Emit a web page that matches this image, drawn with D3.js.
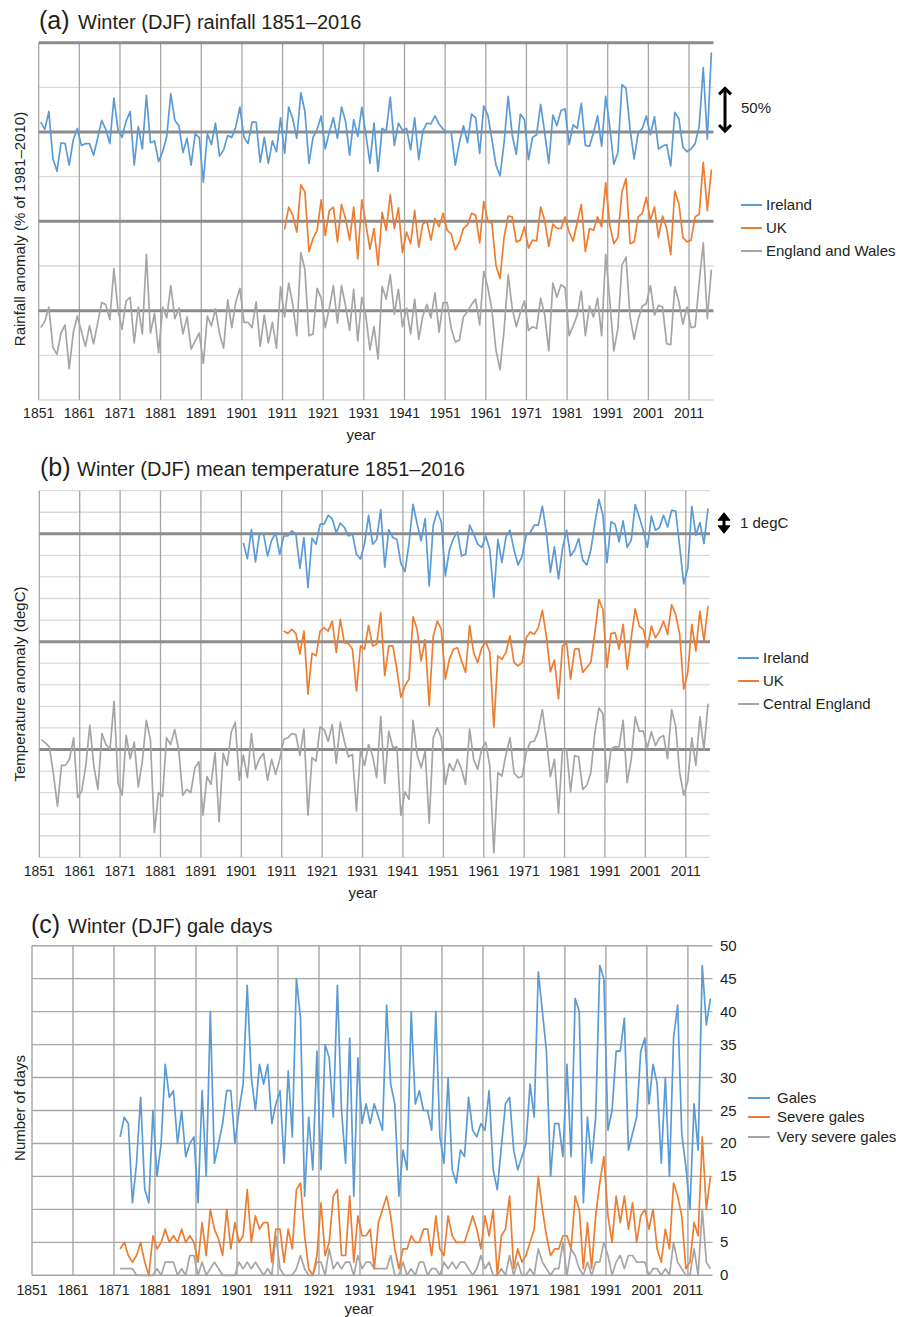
<!DOCTYPE html>
<html>
<head>
<meta charset="utf-8">
<script src="https://cdn.jsdelivr.net/npm/d3@7/dist/d3.min.js"></script>
<style>
  body { margin: 0; background: #ffffff; }
  text { font-family: "Liberation Sans", Arial, Helvetica, sans-serif; fill: #231f20; }
</style>
</head>
<body>
<div id="chart"></div>
<script>

// ---------------- data ----------------

// (a) winter rainfall anomaly, % of 1981-2010 mean
var rainIrelandStart = 1851;
var rainIreland = [
  11, 3, 23, -30, -44, -12, -13, -37, -9, 4,
  -15, -13, -13, -26, -7, 13, 3, -13, 38, 3,
  -6, 12, 23, -37, 6, -19, 41, -12, -10, -33,
  -22, -5, 43, 13, 7, -23, -7, -37, -2, -6,
  -56, -2, -14, 10, -27, -20, -4, -6, 6, 28,
  -6, -13, 11, 11, -34, -6, -35, -10, -22, 16,
  -24, 28, 15, -7, 44, 23, -35, -6, 3, 18,
  -19, 0, 16, -7, 28, 12, -26, 14, -5, 28,
  -3, -35, 10, -44, 4, 1, 39, -15, 10, 2,
  4, -20, 16, -31, 1, 10, 9, 18, 9, 3,
  0, 0, -37, -12, 7, -12, 20, 16, -24, 29,
  19, -8, -37, -49, -12, 40, -3, -25, 20, 14,
  -31, -6, -3, 31, -1, -35, 19, 7, 24, 26,
  -14, 8, 4, 32, -15, -16, -1, 18, -16, 40,
  6, -36, -23, 53, 49, 3, -30, -1, 4, 18,
  -3, 17, -19, -16, -14, -38, 22, 15, -17, -22,
  -19, -13, 6, 72, -8, 89
];

var rainUKStart = 1911;
var rainUK = [
  -9, 16, 7, -12, 41, 33, -34, -19, -10, 24,
  -16, 12, 16, -23, 19, 3, -21, 16, -42, 24,
  -3, -31, -8, -49, 10, -10, 30, -8, 15, -35,
  -12, -25, 12, -29, -3, 0, -21, 3, -6, 9,
  -10, -14, -32, -23, -8, -4, 9, 7, -24, 22,
  0, -2, -49, -64, -18, 6, 5, -23, -21, -6,
  -30, -21, -22, 16, 1, -28, -3, -8, -8, 5,
  -12, -22, -1, 19, -34, -8, -10, 5, -6, 43,
  -4, -25, -18, 33, 48, -25, -23, 5, 9, 27,
  1, 16, -18, 6, -8, -37, 34, 20, -18, -23,
  -21, 5, 8, 66, 12, 58
];

var rainEWStart = 1851;
var rainEW = [
  -19, -12, 4, -41, -49, -25, -16, -65, -25, -6,
  -23, -40, -17, -37, -14, 9, 7, -10, 47, 1,
  -21, 11, 15, -36, 4, -26, 63, -25, -3, -47,
  4, -8, 28, -9, 3, -26, -7, -43, -34, -25,
  -59, -6, -17, 2, -26, -42, 12, -19, 10, 25,
  -13, -13, -19, 10, -40, -5, -36, -13, -42, 27,
  -7, 31, 7, -28, 65, 46, -28, -26, 25, 14,
  -19, 3, 28, -14, 28, 5, -22, 24, -34, 15,
  -6, -44, -18, -54, 27, 13, 40, -4, 24, -18,
  3, -26, 13, -32, -6, 7, -8, 20, -24, 9,
  9, -20, -35, -33, -7, -1, 7, 13, -16, 44,
  26, 1, -44, -66, -22, 40, 3, -18, -2, 11,
  -22, -18, -20, 14, -5, -45, 31, 15, 29, 26,
  -28, -17, -5, 22, -28, 5, -7, 14, -28, 63,
  12, -45, -20, 51, 60, -7, -32, -10, 5, 8,
  28, -5, 6, 4, -37, -38, 27, 10, -15, 4,
  -19, -18, 31, 76, -9, 46
];

// (b) winter mean temperature anomaly, degC
var tempIrelandStart = 1901;
var tempIreland = [
  -0.42, -1.15, 0.2, -1.3, 0.0, 0.0, -1.03, -0.3, 0.05, -0.95,
  -0.1, -0.1, 0.14, 0.0, -1.6, -0.17, -2.5, -0.2, -0.48, 0.45,
  0.45, 0.86, 0.7, 0.05, 0.5, 0.3, -0.1, 0.0, -0.95, -1.17,
  -0.45, 0.86, -0.48, -0.26, 1.12, -1.55, 0.2, -0.17, -0.26, -1.37,
  -1.75, -0.45, 1.37, 0.48, -0.32, 0.7, -2.42, 0.4, 1.06, 0.55,
  -1.95, -0.75, -0.22, 0.09, -1.03, -0.95, 0.4, 0.0, -0.48, -0.63,
  -0.1, -0.72, -2.95, -0.26, -1.34, -0.14, 0.17, -0.75, -1.45, -1.03,
  -0.06, 0.05, 0.4, 0.4, 1.28, 0.09, -1.78, -0.6, -2.09, -0.68,
  0.17, -1.03, -0.75, -0.22, -1.22, -1.45, -0.75, 0.48, 1.6, 0.86,
  -1.34, 0.55, 0.45, -0.37, 0.6, -0.63, -0.29, 1.35, 0.78, 0.14,
  -0.63, 0.82, 0.17, 0.29, 0.86, 0.32, 1.09, 1.06, -0.6, -2.32,
  -1.6, 1.28, -0.06, 0.52, -0.45, 1.17
];

var tempUKStart = 1911;
var tempUK = [
  0.49, 0.38, 0.57, 0.38, -0.58, 0.49, -2.43, -0.54, -0.66, 0.49,
  0.65, 0.49, 0.95, -0.5, 1.03, -0.05, -0.08, -0.35, -2.28, -0.2,
  -0.35, 0.75, -0.2, -0.12, 1.34, -1.58, -0.2, -0.2, -1.28, -2.58,
  -2.05, -1.74, 1.15, 0.57, -0.89, 0.1, -2.97, 0.26, 0.95, 0.57,
  -1.74, -0.82, -0.35, -0.28, -0.89, -1.43, 0.75, -0.5, -0.97, -0.28,
  0.0, -0.5, -3.97, -0.66, -0.82, -0.5, 0.26, -0.97, -1.12, -0.97,
  0.18, 0.45, 0.34, 0.65, 1.45, 0.26, -1.4, -0.85, -2.66, -0.2,
  -0.05, -1.74, -0.35, -0.32, -1.43, -1.2, -0.97, 0.42, 1.95, 1.49,
  -1.2, 0.38, 0.42, -0.35, 0.8, -1.28, 0.18, 1.52, 0.72, 0.57,
  -0.28, 0.72, 0.18, 0.49, 0.95, 0.34, 1.72, 1.26, 0.34, -2.2,
  -1.43, 0.8, -0.43, 1.42, 0.03, 1.65
];

var tempCEStart = 1851;
var tempCE = [
  0.46, 0.31, 0.12, -1.15, -2.62, -0.74, -0.74, -0.43, 0.54, -2.23,
  -1.92, -0.77, 1.12, -0.77, -1.85, 0.74, 0.23, 0.0, 2.23, -1.57,
  -2.12, 0.65, -0.43, 0.34, -1.74, -0.54, 1.35, 0.46, -3.85, -2.0,
  -2.18, 0.54, 0.23, 0.92, 0.0, -2.12, -1.85, -2.0, -0.85, -0.57,
  -3.05, -1.26, -1.62, -0.15, -3.35, -0.18, -0.74, 0.8, 1.26, -1.42,
  -0.26, -1.31, 0.74, -0.92, -0.43, -0.18, -1.42, -0.46, -1.15, -0.46,
  0.46, 0.54, 0.74, 0.69, -0.28, 0.95, -3.05, -0.38, -0.54, 1.05,
  0.92, 0.38, 1.15, -0.65, 1.26, 0.38, -0.34, -0.23, -2.85, -0.03,
  -0.74, 0.23, -0.31, -1.31, 1.54, -1.57, 0.85, 0.08, 0.12, -3.05,
  -1.97, -2.31, 1.35, -0.23, -0.85, -0.08, -3.42, 0.54, 1.0, 0.54,
  -1.62, -0.65, -1.0, -0.46, -0.92, -1.62, 0.95, -0.46, -0.92, 0.03,
  0.34, -0.77, -4.8, -1.08, -1.23, -0.23, 0.54, -1.08, -1.31, -1.26,
  -0.15, 0.34, 0.38, 0.85, 1.85, 0.46, -1.26, -0.46, -2.95, 0.0,
  0.0, -1.97, -0.28, -0.34, -1.85, -1.66, -1.08, 0.77, 1.92, 1.66,
  -1.54, 0.03, 0.12, 0.12, 1.35, -1.54, -0.46, 1.51, 0.85, 0.85,
  0.08, 0.82, 0.18, 0.54, 0.65, -0.43, 1.85, 1.08, -1.08, -2.12,
  -1.46, 0.54, -0.74, 1.51, 0.0, 2.12
];

// (c) winter gale days
var galeStart = 1872;
var gales = [
  21, 24, 23, 11, 17, 27, 13, 11, 25,
  15, 20, 32, 27, 28, 20, 25, 18, 20, 21,
  11, 28, 15, 40, 17, 20, 23, 28, 28, 20,
  25, 29, 44, 30, 25, 32, 29, 32, 23, 26,
  28, 17, 31, 21, 45, 39, 12, 24, 16, 34,
  16, 35, 33, 24, 44, 25, 17, 36, 12, 33,
  23, 26, 23, 26, 24, 22, 41, 29, 26, 12,
  19, 16, 40, 26, 28, 25, 25, 22, 40, 21,
  17, 30, 16, 14, 19, 18, 27, 22, 21, 23,
  22, 28, 16, 13, 19.5, 26, 27, 19, 16, 18,
  20, 29, 24, 46, 40, 34, 15, 23, 23, 18,
  32, 18, 42, 40, 11, 24, 17, 24, 47, 45,
  22, 25, 34, 34, 39, 19, 21.5, 24, 34, 36,
  26, 32, 29, 17, 30, 15, 36, 41, 21.5, 16.5,
  10, 26, 19, 47, 38, 42
];
var severeGales = [
  4, 5, 3, 2, 3, 5, 2, 0, 6,
  4, 5, 7, 5, 6, 5, 7, 5, 6, 5,
  2, 8, 3, 10, 7, 5.5, 3, 10, 4, 8,
  5, 6, 13, 5, 9, 7, 8, 8, 2, 7,
  7, 2, 7, 4, 13, 14, 6, 1, 0, 3,
  11, 3, 5, 12, 13, 3, 3, 12, 2, 9,
  6, 6, 7, 1, 8, 10, 12, 9, 4, 1,
  4, 4, 6, 5, 5, 7, 7, 3, 9, 4,
  3, 9, 6, 5, 5, 5, 7, 9, 7, 4,
  9, 6, 10, 0, 6, 7, 12, 1, 4, 2,
  3, 5, 7, 15, 10, 6, 3, 4, 4, 6,
  6, 4, 12, 10, 1, 8, 1, 9, 14, 18,
  9, 5, 12, 8, 12, 7, 11, 5, 9, 10,
  7, 10, 4, 2, 7, 4, 14, 12, 9, 1,
  2, 8, 6, 21, 10, 15
];
var verySevereGales = [
  1, 1, 1, 1, 0, 0, 0, 0, 0,
  1, 0, 2, 2, 2, 0, 1, 0, 3, 3,
  0, 2, 0, 1, 2, 1, 0, 0, 0, 0,
  2, 1, 2, 1, 2, 1, 0, 1, 0, 6,
  1, 0, 0, 0, 1, 3, 1, 0, 0, 2,
  2, 0, 4, 1, 2, 1, 2, 2, 0, 3,
  1, 2, 2, 1, 1, 1, 1, 3, 0, 0,
  2, 0, 1, 0, 2, 2, 0, 1, 1, 0,
  2, 1, 2, 1, 2, 2, 1, 0, 1, 3,
  1, 2, 0, 0, 1, 0, 3, 0, 2, 0,
  0, 1, 0, 4, 2, 1, 0, 1, 1, 5,
  0, 4, 3, 1, 0, 2, 0, 2, 2, 5,
  3, 0, 2, 3, 1, 3, 3, 2, 2, 2,
  0, 1, 1, 0, 1, 0, 5, 2, 1, 0,
  0, 4, 0, 10, 2, 1
];

// tick years shared by all panels
var tickYears = d3.range(1851, 2012, 10);
var galeTicks = d3.range(0, 51, 5);

// ---------------- colours ----------------
var blue = "#5b9bd5";
var orange = "#ed7d31";
var grey = "#a5a5a5";
var gridDark = "#a6a6a6";
var gridLight = "#d9d9d9";
var zeroLine = "#8c8c8c";

// svg container
var svg = d3.select("#chart")
  .append("svg")
  .attr("width", 898)
  .attr("height", 1317);

// draws one series; points sit in the middle of each year slot
function drawSeries(g, x, y, values, start, offset, colour) {
  var line = d3.line()
    .x((d, i) => x(start + i + 0.5))
    .y(d => y(d + offset));
  g.append("path")
    .datum(values)
    .attr("fill", "none")
    .attr("stroke", colour)
    .attr("stroke-width", 1.7)
    .attr("stroke-linejoin", "round")
    .attr("d", line);
}

function drawTitle(tag, label, xTag, xLabel, yBase) {
  svg.append("text").attr("x", xTag).attr("y", yBase)
    .style("font-size", "25px").text(tag);
  svg.append("text").attr("x", xLabel).attr("y", yBase)
    .style("font-size", "20px").text(label);
}

function drawYearAxis(x, yTicks, yTitle, titleX) {
  svg.append("g").selectAll("text")
    .data(tickYears)
    .enter()
    .append("text")
    .attr("x", d => x(d))
    .attr("y", yTicks)
    .attr("text-anchor", "middle")
    .style("font-size", "14px")
    .text(d => d);
  svg.append("text")
    .attr("x", titleX)
    .attr("y", yTitle)
    .attr("text-anchor", "middle")
    .style("font-size", "15px")
    .text("year");
}

function drawYLabel(label, cx, cy) {
  svg.append("text")
    .attr("transform", `translate(${cx}, ${cy}) rotate(-90)`)
    .attr("text-anchor", "middle")
    .style("font-size", "15px")
    .text(label);
}

function drawLegend(items, x0, x1, xText, yRows) {
  var g = svg.append("g");
  items.forEach(function(item, i) {
    g.append("line")
      .attr("x1", x0).attr("x2", x1)
      .attr("y1", yRows[i]).attr("y2", yRows[i])
      .attr("stroke", item.colour)
      .attr("stroke-width", 2);
    g.append("text")
      .attr("x", xText)
      .attr("y", yRows[i] + 5)
      .style("font-size", "15px")
      .text(item.name);
  });
}

/////////////// PANEL (a) RAINFALL ///////////////
var xA = d3.scaleLinear().domain([1851, 2017]).range([38.7, 713.4]);
var yA = d3.scaleLinear().domain([-300, 100]).range([400, 42.7]);
var gA = svg.append("g");

// light horizontal grid every 50%
gA.selectAll(".hA")
  .data(d3.range(-300, 101, 50))
  .enter()
  .append("line")
  .attr("x1", xA(1851)).attr("x2", xA(2017))
  .attr("y1", d => yA(d)).attr("y2", d => yA(d))
  .attr("stroke", gridLight)
  .attr("stroke-width", 1.3);

// vertical decade lines
gA.selectAll(".vA")
  .data(tickYears)
  .enter()
  .append("line")
  .attr("x1", d => xA(d)).attr("x2", d => xA(d))
  .attr("y1", yA(100)).attr("y2", yA(-300))
  .attr("stroke", gridDark)
  .attr("stroke-width", 1.3);

// thick reference lines: top border and the three zero lines
gA.selectAll(".zA")
  .data([100, 0, -100, -200])
  .enter()
  .append("line")
  .attr("x1", xA(1851)).attr("x2", xA(2017))
  .attr("y1", d => yA(d)).attr("y2", d => yA(d))
  .attr("stroke", zeroLine)
  .attr("stroke-width", 3);

drawSeries(gA, xA, yA, rainEW, rainEWStart, -200, grey);
drawSeries(gA, xA, yA, rainUK, rainUKStart, -100, orange);
drawSeries(gA, xA, yA, rainIreland, rainIrelandStart, 0, blue);

drawTitle("(a)", "Winter (DJF) rainfall 1851\u20132016", 39, 78, 29);
drawYearAxis(xA, 418, 440, 361);
drawYLabel("Rainfall anomaly (% of 1981\u20132010)", 25, 229);
drawLegend([
  { name: "Ireland", colour: blue },
  { name: "UK", colour: orange },
  { name: "England and Wales", colour: grey }
], 741, 762, 766, [205, 228, 251]);

// 50% scale arrow
var arrowA = svg.append("g")
  .attr("stroke", "#000")
  .attr("stroke-width", 3)
  .attr("fill", "none");
arrowA.append("line").attr("x1", 725).attr("x2", 725).attr("y1", yA(50) + 1).attr("y2", yA(0) - 1);
arrowA.append("polyline").attr("points", `719,${yA(50) + 7} 725,${yA(50) + 1} 731,${yA(50) + 7}`);
arrowA.append("polyline").attr("points", `719,${yA(0) - 7} 725,${yA(0) - 1} 731,${yA(0) - 7}`);
svg.append("text").attr("x", 741).attr("y", 113).style("font-size", "15px").text("50%");

/////////////// PANEL (b) TEMPERATURE ///////////////
var xB = d3.scaleLinear().domain([1851, 2017]).range([39.3, 710]);
var yB = d3.scaleLinear().domain([-15, 2]).range([857.3, 490.7]);
var gB = svg.append("g");

gB.selectAll(".hB")
  .data(d3.range(-15, 3, 1))
  .enter()
  .append("line")
  .attr("x1", xB(1851)).attr("x2", xB(2017))
  .attr("y1", d => yB(d)).attr("y2", d => yB(d))
  .attr("stroke", gridLight)
  .attr("stroke-width", 1.3);

gB.selectAll(".vB")
  .data(tickYears)
  .enter()
  .append("line")
  .attr("x1", d => xB(d)).attr("x2", d => xB(d))
  .attr("y1", yB(2)).attr("y2", yB(-15))
  .attr("stroke", gridDark)
  .attr("stroke-width", 1.3);

gB.selectAll(".zB")
  .data([0, -5, -10])
  .enter()
  .append("line")
  .attr("x1", xB(1851)).attr("x2", xB(2017))
  .attr("y1", d => yB(d)).attr("y2", d => yB(d))
  .attr("stroke", zeroLine)
  .attr("stroke-width", 3);

drawSeries(gB, xB, yB, tempCE, tempCEStart, -10, grey);
drawSeries(gB, xB, yB, tempUK, tempUKStart, -5, orange);
drawSeries(gB, xB, yB, tempIreland, tempIrelandStart, 0, blue);

drawTitle("(b)", "Winter (DJF) mean temperature 1851\u20132016", 40, 77, 476);
drawYearAxis(xB, 876, 898, 363);
drawYLabel("Temperature anomaly (degC)", 25, 684);
drawLegend([
  { name: "Ireland", colour: blue },
  { name: "UK", colour: orange },
  { name: "Central England", colour: grey }
], 738, 759, 763, [658, 681, 704]);

// 1 degC scale arrow
var arrowB = svg.append("g").attr("fill", "#000").attr("stroke", "#000");
arrowB.append("line").attr("x1", 724).attr("x2", 724)
  .attr("y1", yB(1) + 4).attr("y2", yB(0) - 4).attr("stroke-width", 3);
arrowB.append("path").attr("d", `M718,${yB(1) + 8} L724,${yB(1) + 0.5} L730,${yB(1) + 8} Z`);
arrowB.append("path").attr("d", `M718,${yB(0) - 8} L724,${yB(0) - 0.5} L730,${yB(0) - 8} Z`);
svg.append("text").attr("x", 740).attr("y", 528).style("font-size", "15px").text("1 degC");

/////////////// PANEL (c) GALES ///////////////
var xC = d3.scaleLinear().domain([1851, 2017]).range([32, 712.5]);
var yC = d3.scaleLinear().domain([0, 50]).range([1275.3, 945.7]);
var gC = svg.append("g");

gC.selectAll(".hC")
  .data(galeTicks)
  .enter()
  .append("line")
  .attr("x1", xC(1851)).attr("x2", xC(2017))
  .attr("y1", d => yC(d)).attr("y2", d => yC(d))
  .attr("stroke", gridDark)
  .attr("stroke-width", 1.4);

gC.selectAll(".vC")
  .data(tickYears)
  .enter()
  .append("line")
  .attr("x1", d => xC(d)).attr("x2", d => xC(d))
  .attr("y1", yC(50)).attr("y2", yC(0))
  .attr("stroke", gridDark)
  .attr("stroke-width", 1.4);

drawSeries(gC, xC, yC, verySevereGales, galeStart, 0, grey);
drawSeries(gC, xC, yC, severeGales, galeStart, 0, orange);
drawSeries(gC, xC, yC, gales, galeStart, 0, blue);

// right-hand value axis
gC.selectAll(".lC")
  .data(galeTicks)
  .enter()
  .append("text")
  .attr("x", 720)
  .attr("y", d => yC(d) + 5)
  .style("font-size", "15px")
  .text(d => d);

drawTitle("(c)", "Winter (DJF) gale days", 31, 68, 933);
drawYearAxis(xC, 1295, 1314, 359);
drawYLabel("Number of days", 25, 1108);
drawLegend([
  { name: "Gales", colour: blue },
  { name: "Severe gales", colour: orange },
  { name: "Very severe gales", colour: grey }
], 748, 770, 777, [1098, 1117, 1137]);

</script>
</body>
</html>
